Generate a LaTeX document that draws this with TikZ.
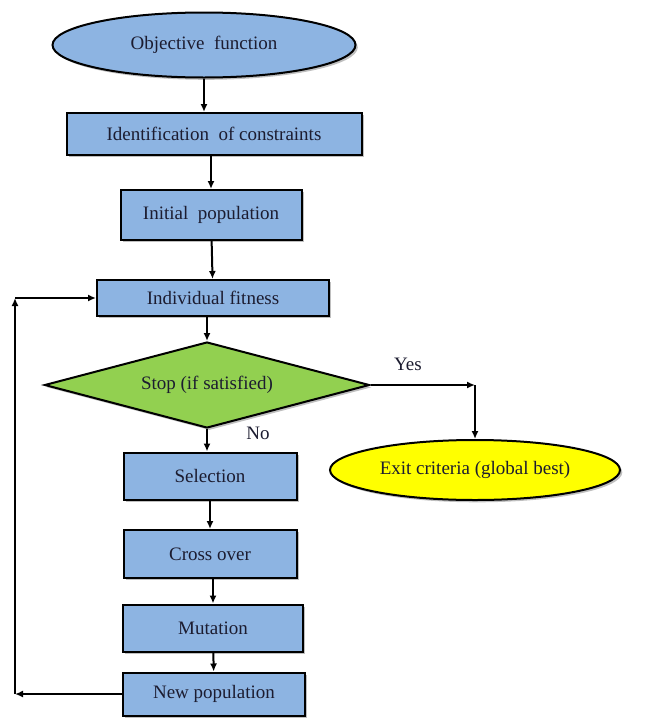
\documentclass[tikz,border=0pt]{standalone}
\usepackage{fontspec}
\setmainfont{Liberation Serif}
\usetikzlibrary{arrows.meta}
\usetikzlibrary{shapes.geometric}
\usetikzlibrary{shadows}
\tikzset{>={Latex[length=8pt,width=7pt]}}
\definecolor{boxblue}{RGB}{141,180,226}
\definecolor{stopgreen}{RGB}{146,208,80}
\definecolor{exityellow}{RGB}{255,255,0}
\definecolor{textdark}{RGB}{28,28,48}

\begin{document}
\begin{tikzpicture}[x=1pt, y=-1pt, line width=2pt,
    every node/.style={text=textdark, font=\fontsize{19}{22}\selectfont},
    procbox/.style={draw=black, fill=boxblue, rectangle, inner sep=0pt, drop shadow},
    decision/.style={draw=black, fill=stopgreen, diamond, aspect=3.8, inner sep=0pt, drop shadow},
    terminal/.style={draw=black, ellipse, inner sep=0pt, drop shadow}]
  \useasboundingbox (0,0) rectangle (648,718);
  % main column
  \node[terminal, fill=boxblue, minimum width=303pt, minimum height=65pt] (obj) at (204,45) {Objective\ \ function};
  \node[procbox, minimum width=295pt, minimum height=42pt] (ident) at (214,134) {Identification\ \ of constraints};
  \node[procbox, minimum width=181pt, minimum height=50pt] (init) at (211,215) {Initial\ \ population};
  \node[procbox, minimum width=232pt, minimum height=36pt] (fitness) at (213,298) {Individual fitness};
  \node[decision, minimum width=325pt, minimum height=86pt] (stop) at (207,385) {Stop (if satisfied)};
  \node[procbox, minimum width=173pt, minimum height=47pt] (select) at (210,476) {Selection};
  \node[procbox, minimum width=173pt, minimum height=48pt] (cross) at (210,554) {Cross over};
  \node[procbox, minimum width=180pt, minimum height=47pt] (mutate) at (213,628) {Mutation};
  \node[procbox, minimum width=182pt, minimum height=43pt] (newpop) at (214,694) {New population};
  % exit branch
  \node[terminal, fill=exityellow, minimum width=290pt, minimum height=60pt] (exit) at (475,470) {Exit criteria (global best)};
  \node (yes) at (408,364) {Yes};
  \node (no) at (258,433) {No};
  % connectors
  \draw[->] (obj) -- (obj |- ident.north);
  \draw[->] (ident.south -| init.north) -- (init);
  \draw[->] (init) -- (fitness);
  \draw[->] (fitness.south -| stop.north) -- (stop);
  \draw[->] (stop) -- (stop |- select.north);
  \draw[->] (select) -- (cross);
  \draw[->] (cross.south -| mutate.north) -- (mutate);
  \draw[->] (mutate) -- (newpop);
  \coordinate (yescorner) at (stop.east -| exit.north);
  \draw[->] (stop.east) -- (yescorner);
  \draw[->] (yescorner) -- (exit.north);
  % loop back
  \coordinate (loopbot) at (15,694);
  \coordinate (looptop) at (15,298);
  \draw[->] (newpop.west) -- (loopbot);
  \draw[->] (loopbot) -- (looptop);
  \draw[->] (looptop) -- (fitness.west);
\end{tikzpicture}
\end{document}
